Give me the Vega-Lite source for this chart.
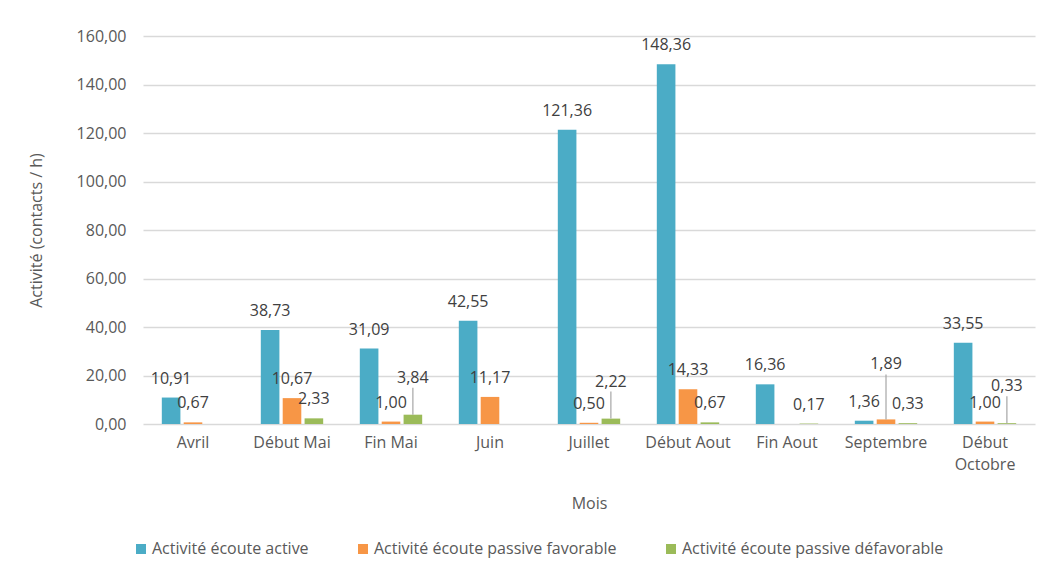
{
  "$schema": "https://vega.github.io/schema/vega-lite/v6.json",
  "autosize": {"type": "none"},
  "width": 892,
  "height": 388,
  "padding": {"left": 143, "top": 36, "right": 15, "bottom": 159},
  "background": "white",
  "config": {
    "locale": {"number": {"decimal": ",", "thousands": " ", "grouping": [3], "currency": ["", " €"]}},
    "font": "Open Sans",
    "view": {"stroke": null},
    "axis": {
      "labelColor": "#595959", "titleColor": "#595959",
      "labelFont": "Open Sans", "titleFont": "Open Sans",
      "labelFontSize": 16, "titleFontSize": 16, "titleFontWeight": "normal",
      "gridColor": "#d9d9d9", "gridWidth": 1.5, "ticks": false, "domain": false
    },
    "legend": {"labelFont": "Open Sans", "labelFontSize": 16, "labelColor": "#595959", "labelLimit": 0}
  },
  "data": {
    "values": [
      {"mois": "Avril", "serie": "Activité écoute active", "valeur": 10.91},
      {"mois": "Avril", "serie": "Activité écoute passive favorable", "valeur": 0.67},
      {"mois": "Début Mai", "serie": "Activité écoute active", "valeur": 38.73},
      {"mois": "Début Mai", "serie": "Activité écoute passive favorable", "valeur": 10.67},
      {"mois": "Début Mai", "serie": "Activité écoute passive défavorable", "valeur": 2.33},
      {"mois": "Fin Mai", "serie": "Activité écoute active", "valeur": 31.09},
      {"mois": "Fin Mai", "serie": "Activité écoute passive favorable", "valeur": 1.00},
      {"mois": "Fin Mai", "serie": "Activité écoute passive défavorable", "valeur": 3.84},
      {"mois": "Juin", "serie": "Activité écoute active", "valeur": 42.55},
      {"mois": "Juin", "serie": "Activité écoute passive favorable", "valeur": 11.17},
      {"mois": "Juillet", "serie": "Activité écoute active", "valeur": 121.36},
      {"mois": "Juillet", "serie": "Activité écoute passive favorable", "valeur": 0.50},
      {"mois": "Juillet", "serie": "Activité écoute passive défavorable", "valeur": 2.22},
      {"mois": "Début Aout", "serie": "Activité écoute active", "valeur": 148.36},
      {"mois": "Début Aout", "serie": "Activité écoute passive favorable", "valeur": 14.33},
      {"mois": "Début Aout", "serie": "Activité écoute passive défavorable", "valeur": 0.67},
      {"mois": "Fin Aout", "serie": "Activité écoute active", "valeur": 16.36},
      {"mois": "Fin Aout", "serie": "Activité écoute passive défavorable", "valeur": 0.17},
      {"mois": "Septembre", "serie": "Activité écoute active", "valeur": 1.36},
      {"mois": "Septembre", "serie": "Activité écoute passive favorable", "valeur": 1.89},
      {"mois": "Septembre", "serie": "Activité écoute passive défavorable", "valeur": 0.33},
      {"mois": "Début Octobre", "serie": "Activité écoute active", "valeur": 33.55},
      {"mois": "Début Octobre", "serie": "Activité écoute passive favorable", "valeur": 1.00},
      {"mois": "Début Octobre", "serie": "Activité écoute passive défavorable", "valeur": 0.33}
    ]
  },
  "encoding": {
    "x": {
      "field": "mois", "type": "nominal",
      "sort": ["Avril", "Début Mai", "Fin Mai", "Juin", "Juillet", "Début Aout", "Fin Aout", "Septembre", "Début Octobre"],
      "scale": {"paddingInner": 0.37, "paddingOuter": 0.19},
      "axis": {
        "title": "Mois", "labelAngle": 0, "labelPadding": 10, "titlePadding": 23,
        "labelExpr": "datum.label == 'Début Octobre' ? ['Début', 'Octobre'] : datum.label",
        "labelLineHeight": 22
      }
    },
    "xOffset": {
      "field": "serie", "type": "nominal",
      "sort": ["Activité écoute active", "Activité écoute passive favorable", "Activité écoute passive défavorable"],
      "scale": {"paddingInner": 0.15}
    },
    "y": {
      "field": "valeur", "type": "quantitative",
      "scale": {"domain": [0, 160]},
      "axis": {
        "title": "Activité (contacts / h)", "values": [0, 20, 40, 60, 80, 100, 120, 140, 160],
        "format": ".2f", "labelPadding": 17, "titlePadding": 32, "grid": true
      }
    }
  },
  "layer": [
    {
      "mark": {"type": "bar"},
      "encoding": {
        "color": {
          "field": "serie", "type": "nominal",
          "sort": ["Activité écoute active", "Activité écoute passive favorable", "Activité écoute passive défavorable"],
          "scale": {
            "domain": ["Activité écoute active", "Activité écoute passive favorable", "Activité écoute passive défavorable"],
            "range": ["#4BACC6", "#F79646", "#9BBB59"]
          },
          "legend": {
            "title": null, "orient": "none", "legendX": -10, "legendY": 505,
            "direction": "horizontal", "symbolType": "square", "symbolSize": 100,
            "symbolStrokeWidth": 0, "labelOffset": 3, "columnPadding": 46, "gridAlign": "none"
          }
        }
      }
    },
    {
      "transform": [{"filter": "!((datum.serie == 'Activité écoute passive défavorable' && (datum.mois == 'Fin Mai' || datum.mois == 'Juillet' || datum.mois == 'Début Octobre')) || (datum.serie == 'Activité écoute passive favorable' && datum.mois == 'Septembre'))"}],
      "mark": {"type": "text", "baseline": "alphabetic", "dy": -14, "fontSize": 16, "color": "#404040", "font": "Open Sans"},
      "encoding": {
        "text": {"field": "valeur", "type": "quantitative", "format": ".2f"}
      }
    },
    {
      "transform": [{"filter": "datum.serie == 'Activité écoute passive défavorable' && (datum.mois == 'Fin Mai' || datum.mois == 'Juillet' || datum.mois == 'Début Octobre')"}],
      "mark": {"type": "text", "baseline": "alphabetic", "dy": -32, "fontSize": 16, "color": "#404040", "font": "Open Sans"},
      "encoding": {
        "text": {"field": "valeur", "type": "quantitative", "format": ".2f"}
      }
    },
    {
      "transform": [{"filter": "datum.serie == 'Activité écoute passive favorable' && datum.mois == 'Septembre'"}],
      "mark": {"type": "text", "baseline": "alphabetic", "dy": -50, "fontSize": 16, "color": "#404040", "font": "Open Sans"},
      "encoding": {
        "text": {"field": "valeur", "type": "quantitative", "format": ".2f"}
      }
    },
    {
      "transform": [{"filter": "datum.serie == 'Activité écoute passive défavorable' && (datum.mois == 'Fin Mai' || datum.mois == 'Juillet' || datum.mois == 'Début Octobre')"}],
      "mark": {"type": "rule", "color": "#a6a6a6", "strokeWidth": 1.2, "y2Offset": -27},
      "encoding": {
        "y2": {"field": "valeur"}
      }
    },
    {
      "transform": [{"filter": "datum.serie == 'Activité écoute passive favorable' && datum.mois == 'Septembre'"}],
      "mark": {"type": "rule", "color": "#a6a6a6", "strokeWidth": 1.2, "y2Offset": -45},
      "encoding": {
        "y2": {"field": "valeur"}
      }
    }
  ]
}
